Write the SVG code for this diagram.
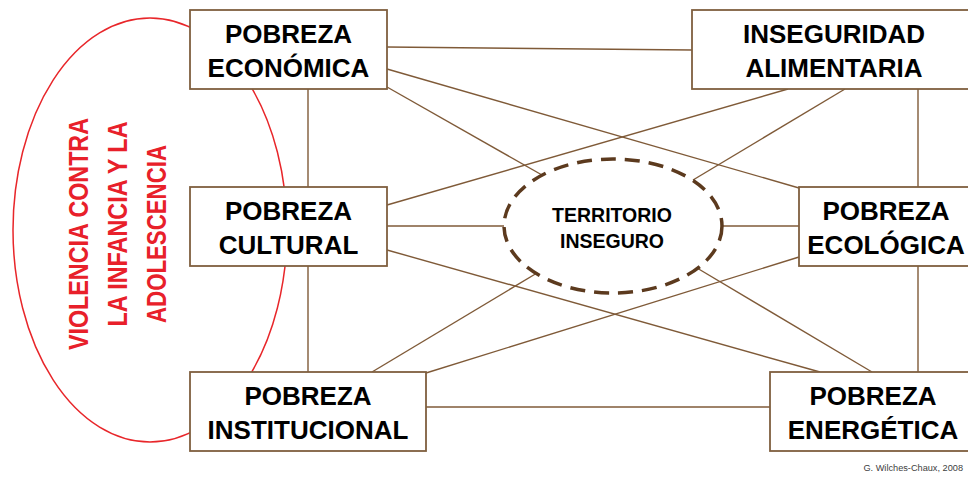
<svg xmlns="http://www.w3.org/2000/svg" width="968" height="477" viewBox="0 0 968 477">
<style>
.box{fill:#fff;stroke:#7F5F3F;stroke-width:1.8}
.lbl{font-family:"Liberation Sans",Arial,sans-serif;font-weight:bold;font-size:26px;fill:#000;text-anchor:middle}
.ln{stroke:#7F5A38;stroke-width:1.4;fill:none}
.red{font-family:"Liberation Sans",Arial,sans-serif;font-weight:bold;font-size:28px;fill:#E8202A;text-anchor:middle}
.t{font-family:"Liberation Sans",Arial,sans-serif;font-weight:bold;font-size:19.5px;fill:#000;text-anchor:middle}
</style>
<rect width="968" height="477" fill="#fff"/>
<g id="violencia">
<ellipse cx="150" cy="230" rx="137" ry="212" fill="none" stroke="#E8262A" stroke-width="1.5"/>
<text class="red" transform="translate(88,234) rotate(-90)" textLength="232" lengthAdjust="spacingAndGlyphs">VIOLENCIA CONTRA</text>
<text class="red" transform="translate(127,224) rotate(-90)" textLength="205" lengthAdjust="spacingAndGlyphs">LA INFANCIA Y LA</text>
<text class="red" transform="translate(166,234) rotate(-90)" textLength="178" lengthAdjust="spacingAndGlyphs">ADOLESCENCIA</text>
</g>
<g id="connectors">
<line class="ln" x1="387" y1="47" x2="692" y2="50"/>
<line class="ln" x1="387" y1="69" x2="799" y2="188"/>
<line class="ln" x1="387" y1="87" x2="542" y2="175"/>
<line class="ln" x1="308" y1="89" x2="308" y2="187"/>
<line class="ln" x1="387" y1="205" x2="788" y2="89"/>
<line class="ln" x1="387" y1="226" x2="504" y2="226"/>
<line class="ln" x1="387" y1="250" x2="820" y2="372"/>
<line class="ln" x1="308" y1="266" x2="308" y2="372"/>
<line class="ln" x1="372" y1="372" x2="537" y2="273"/>
<line class="ln" x1="426" y1="373" x2="799" y2="257"/>
<line class="ln" x1="426" y1="407" x2="770" y2="407"/>
<line class="ln" x1="845" y1="89" x2="693" y2="180"/>
<line class="ln" x1="918" y1="89" x2="918" y2="187"/>
<line class="ln" x1="722" y1="226" x2="799" y2="226"/>
<line class="ln" x1="918" y1="266" x2="918" y2="372"/>
<line class="ln" x1="697" y1="268" x2="872" y2="372"/>
</g>
<g id="pobreza-economica">
<rect class="box" x="190" y="10" width="197" height="79"/>
<text class="lbl" x="288.5" y="43">POBREZA</text>
<text class="lbl" x="288.5" y="77">ECONÓMICA</text>
</g>
<g id="pobreza-cultural">
<rect class="box" x="190" y="187" width="197" height="79"/>
<text class="lbl" x="288.5" y="220">POBREZA</text>
<text class="lbl" x="288.5" y="254">CULTURAL</text>
</g>
<g id="pobreza-institucional">
<rect class="box" x="190" y="372" width="236" height="79"/>
<text class="lbl" x="308" y="405">POBREZA</text>
<text class="lbl" x="308" y="439">INSTITUCIONAL</text>
</g>
<g id="inseguridad-alimentaria">
<rect class="box" x="692" y="10" width="284" height="79"/>
<text class="lbl" x="834" y="43">INSEGURIDAD</text>
<text class="lbl" x="834" y="77">ALIMENTARIA</text>
</g>
<g id="pobreza-ecologica">
<rect class="box" x="799" y="187" width="177" height="79"/>
<text class="lbl" x="886" y="220">POBREZA</text>
<text class="lbl" x="886" y="254">ECOLÓGICA</text>
</g>
<g id="pobreza-energetica">
<rect class="box" x="770" y="372" width="206" height="79"/>
<text class="lbl" x="873" y="405">POBREZA</text>
<text class="lbl" x="873" y="439">ENERGÉTICA</text>
</g>
<g id="territorio">
<ellipse cx="613" cy="226" rx="109" ry="67" fill="#fff" stroke="#5C3A1E" stroke-width="3.5" stroke-dasharray="15 9"/>
<text class="t" x="612" y="222">TERRITORIO</text>
<text class="t" x="612" y="248">INSEGURO</text>
</g>
<text x="963" y="471" font-family="'Liberation Sans',Arial,sans-serif" font-size="9.2" fill="#404040" text-anchor="end">G. Wilches-Chaux, 2008</text>
</svg>
